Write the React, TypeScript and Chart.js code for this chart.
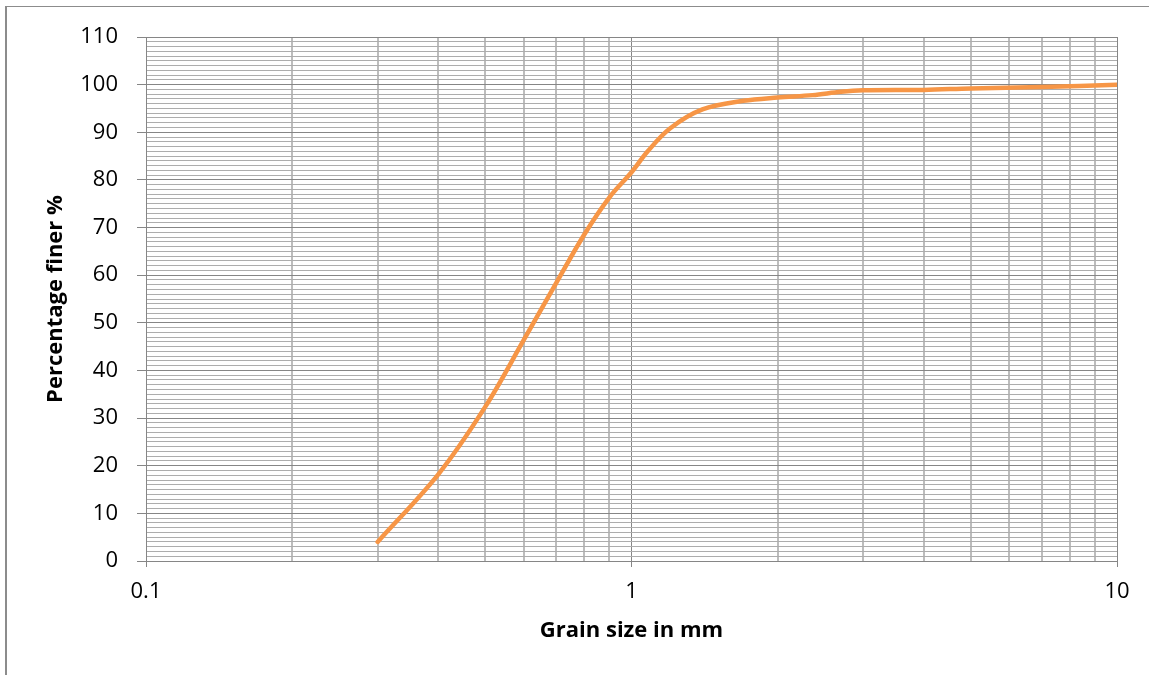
import { useEffect, useRef } from "react";
import { Chart, registerables } from "chart.js";

Chart.register(...registerables);

// Sieve analysis: grain size (mm) against cumulative percentage passing
const GRAIN_SIZE_MM = [0.3, 0.4, 0.5, 0.6, 0.7, 0.8, 0.9, 1.0, 1.08, 1.2, 1.4, 1.7, 2.0, 2.36, 2.7, 3.0, 4.0, 5.0, 7.0, 10];
const PERCENT_FINER = [4, 18.2, 32.4, 46.4, 58.4, 68.6, 76.3, 81.6, 86, 90.8, 94.8, 96.6, 97.3, 97.8, 98.5, 98.8, 98.9, 99.2, 99.5, 100];

// Log-paper grid on the x axis; only the decades carry labels
const X_GRID_VALUES = [0.1, 0.2, 0.3, 0.4, 0.5, 0.6, 0.7, 0.8, 0.9, 1, 2, 3, 4, 5, 6, 7, 8, 9, 10];
const X_LABELLED = [0.1, 1, 10];

const Y_MIN = 0;
const Y_MAX = 110;
const Y_MINOR_STEP = 1;
const Y_LABEL_EVERY = 10;

const FONT_FAMILY = '"Open Sans", "Noto Sans", Arial, sans-serif';
const MAJOR_GRID = "#868686";
const MINOR_GRID_H = "#adadad";
const MINOR_GRID_V = "#bdbdbd";
const LINE_COLOR = "#F79646";

export default function App() {
  const canvasRef = useRef<HTMLCanvasElement>(null);

  useEffect(() => {
    const canvas = canvasRef.current;
    if (!canvas) return;

    const isMajorX = (v: number) => X_LABELLED.includes(v);
    const isMajorY = (v: number) => v % Y_LABEL_EVERY === 0;

    const chart = new Chart(canvas, {
      type: "line",
      data: {
        datasets: [
          {
            label: "Percentage finer",
            data: GRAIN_SIZE_MM.map((x, i) => ({ x, y: PERCENT_FINER[i] })),
            borderColor: LINE_COLOR,
            backgroundColor: LINE_COLOR,
            borderWidth: 4.5,
            borderCapStyle: "round",
            borderJoinStyle: "round",
            tension: 0.35,
            pointRadius: 0,
            fill: false,
          },
        ],
      },
      options: {
        responsive: false,
        animation: false,
        devicePixelRatio: 1,
        layout: { padding: { left: 0, top: 37, right: 32, bottom: 0 } },
        plugins: {
          legend: { display: false },
          tooltip: { enabled: false },
        },
        scales: {
          x: {
            type: "logarithmic",
            position: "bottom",
            min: 0.1,
            max: 10,
            afterBuildTicks: (scale: any) => {
              scale.ticks = X_GRID_VALUES.map((value) => ({ value }));
            },
            afterFit: (scale: any) => {
              scale.height = 114;
            },
            ticks: {
              autoSkip: false,
              maxRotation: 0,
              padding: 12,
              color: "#000",
              font: { family: FONT_FAMILY, size: 22 },
              callback: (v: any) => (isMajorX(Number(v)) ? String(v) : ""),
            },
            grid: {
              color: (ctx: any) => (isMajorX(ctx.tick?.value) ? MAJOR_GRID : MINOR_GRID_V),
              lineWidth: (ctx: any) => (isMajorX(ctx.tick?.value) ? 1 : 2),
              tickLength: 6,
              tickColor: (ctx: any) => (isMajorX(ctx.tick?.value) ? MAJOR_GRID : "rgba(0,0,0,0)"),
            },
            border: { color: MAJOR_GRID, width: 1 },
            title: {
              display: true,
              text: "Grain size in mm",
              color: "#000",
              font: { family: FONT_FAMILY, size: 22, weight: "bold" },
              padding: { top: 0, bottom: 31 },
            },
          },
          y: {
            min: Y_MIN,
            max: Y_MAX,
            afterFit: (scale: any) => {
              scale.width = 146;
            },
            ticks: {
              stepSize: Y_MINOR_STEP,
              maxTicksLimit: 200,
              autoSkip: false,
              padding: 19,
              color: "#000",
              font: { family: FONT_FAMILY, size: 22 },
              callback: (v: any) => (isMajorY(Number(v)) ? String(v) : ""),
            },
            grid: {
              color: (ctx: any) => (isMajorY(ctx.tick?.value) ? MAJOR_GRID : MINOR_GRID_H),
              lineWidth: 1,
              tickLength: 9,
              tickColor: (ctx: any) => (isMajorY(ctx.tick?.value) ? MAJOR_GRID : "rgba(0,0,0,0)"),
            },
            border: { color: MAJOR_GRID, width: 1 },
            title: {
              display: true,
              text: "Percentage finer %",
              color: "#000",
              font: { family: FONT_FAMILY, size: 22, weight: "bold" },
              padding: { top: 43, bottom: 0 },
            },
          },
        },
      },
    } as any);

    return () => chart.destroy();
  }, []);

  return (
    <div
      style={{
        position: "fixed",
        left: 0,
        top: 0,
        width: 1149,
        height: 675,
        overflow: "hidden",
        background: "#fff",
      }}
    >
      <div
        style={{
          position: "absolute",
          left: 5,
          top: 6,
          width: 1400,
          height: 900,
          borderLeft: "2px solid #8c8c8c",
          borderTop: "1px solid #8c8c8c",
        }}
      />
      <canvas
        ref={canvasRef}
        width={1149}
        height={675}
        style={{ position: "absolute", left: 0, top: 0, width: 1149, height: 675 }}
      />
    </div>
  );
}
